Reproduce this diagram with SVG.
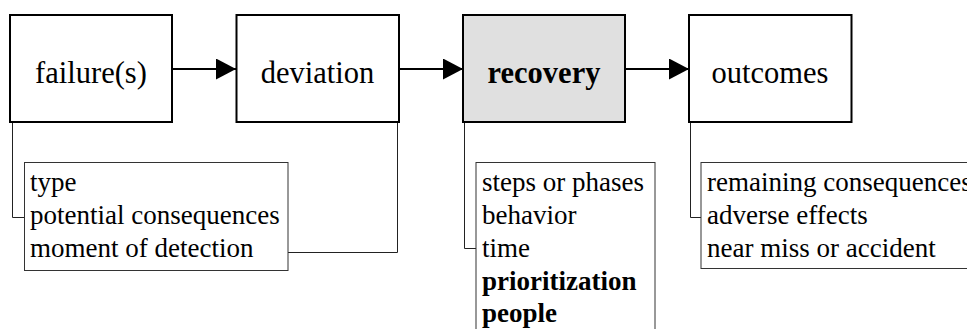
<svg xmlns="http://www.w3.org/2000/svg" width="967" height="329" viewBox="0 0 967 329" font-family="'Liberation Serif', 'Times New Roman', Times, serif">
<style>
.main{fill:#fff;stroke:#000;stroke-width:2}
.gray{fill:#e0e0e0}
.sub{fill:#fff;stroke:#333;stroke-width:1}
text{font-family:'Liberation Serif','Times New Roman',Times,serif;fill:#000}
.big{font-size:30.5px;text-anchor:middle}
.small{font-size:27px}
.b{font-weight:bold}
.conn{fill:none;stroke:#222;stroke-width:1}
.arr{fill:none;stroke:#000;stroke-width:2}
</style>
<defs>
<marker id="ah" markerWidth="20" markerHeight="21" refX="20" refY="10.5" orient="auto" markerUnits="userSpaceOnUse">
<path d="M0,0 L20,10.5 L0,21 Z" fill="#000"/>
</marker>
</defs>
<rect width="967" height="329" fill="#fff"/>
<g id="connectors">
<line class="arr" x1="172" y1="69" x2="236" y2="69" marker-end="url(#ah)"/>
<line class="arr" x1="399" y1="69" x2="463" y2="69" marker-end="url(#ah)"/>
<line class="arr" x1="625" y1="69" x2="689" y2="69" marker-end="url(#ah)"/>
<path class="conn" d="M12.5,122 V217.5 H24"/>
<path class="conn" d="M397.5,122 V252.5 H253"/>
<path class="conn" d="M464.5,122 V248.5 H476"/>
<path class="conn" d="M690.5,122 V217.5 H701"/>
</g>
<g id="failures">
<rect class="main" x="10" y="15" width="162" height="107"/>
<text class="big" x="91" y="83">failure(s)</text>
</g>
<g id="deviation">
<rect class="main" x="236.5" y="15" width="162.5" height="107"/>
<text class="big" x="317.5" y="83">deviation</text>
</g>
<g id="recovery">
<rect class="main gray" x="463" y="15" width="162" height="107"/>
<text class="big b" x="544" y="83">recovery</text>
</g>
<g id="outcomes">
<rect class="main" x="689" y="15" width="162.5" height="107"/>
<text class="big" x="770" y="83">outcomes</text>
</g>
<g id="failure-details">
<rect class="sub" x="24.5" y="162.5" width="263.5" height="108"/>
<text class="small" x="30" y="191">type</text>
<text class="small" x="30" y="224">potential consequences</text>
<text class="small" x="30" y="257">moment of detection</text>
</g>
<g id="recovery-details">
<rect class="sub gray" x="476" y="162.5" width="179" height="180"/>
<text class="small" x="482" y="191">steps or phases</text>
<text class="small" x="482" y="224">behavior</text>
<text class="small" x="482" y="257">time</text>
<text class="small b" x="482" y="290">prioritization</text>
<text class="small b" x="482" y="322">people</text>
</g>
<g id="outcome-details">
<rect class="sub" x="701" y="162.5" width="280" height="106"/>
<text class="small" x="707" y="191">remaining consequences</text>
<text class="small" x="707" y="224">adverse effects</text>
<text class="small" x="707" y="257">near miss or accident</text>
</g>
</svg>
